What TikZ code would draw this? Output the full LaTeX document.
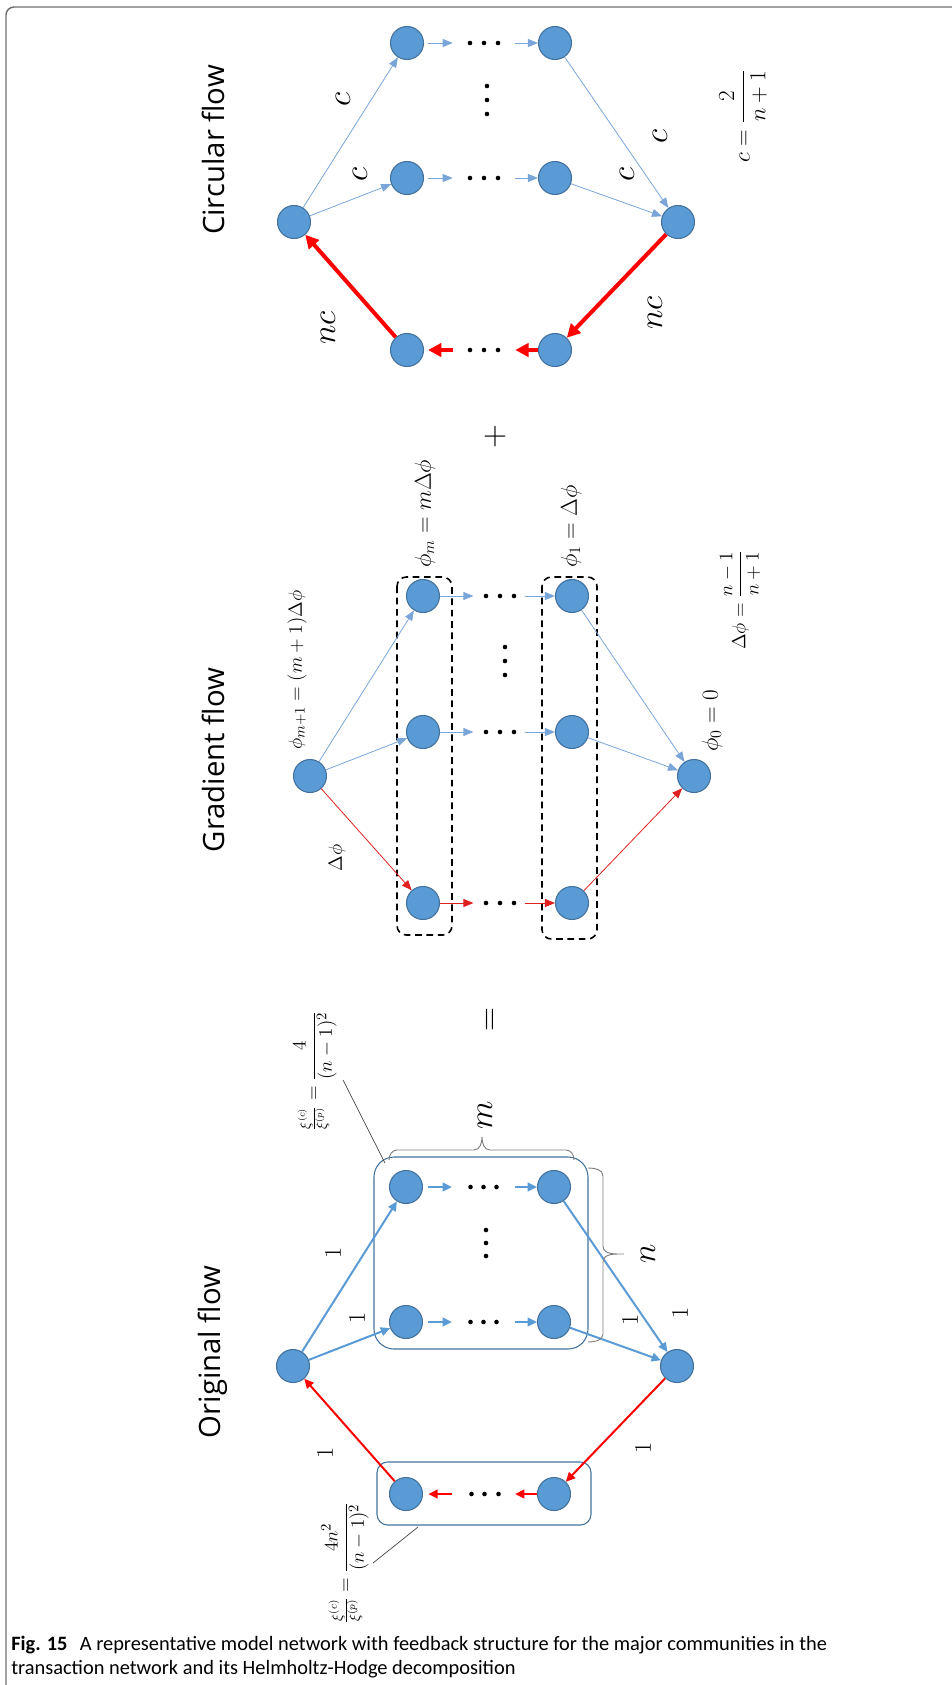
\documentclass[tikz,border=0pt]{standalone}
\usepackage{amsmath}
\usepackage{fontspec}
\usetikzlibrary{arrows.meta,calc}
\newfontfamily\titlefont{Open Sans}
\newfontfamily\capfont{Carlito}
\definecolor{nodefill}{HTML}{5B9BD5}
\definecolor{nodeline}{HTML}{41719C}
\definecolor{blueflow}{HTML}{5B9BD5}
\definecolor{thinblue}{HTML}{7AA5D8}
\definecolor{redflow}{HTML}{FF0000}
\definecolor{thinred}{HTML}{E02020}
\definecolor{framegray}{HTML}{6E6E6E}
\definecolor{bracegray}{HTML}{7F7F7F}
\newcommand\fpt[1]{\fontsize{#1}{#1}\selectfont}
\begin{document}
\begin{tikzpicture}[x=0.75pt,y=-0.75pt,
  vtx/.style={circle,fill=nodefill,draw=nodeline,line width=0.8pt,minimum size=24.75pt,inner sep=0pt},
  gap/.style={minimum width=#1,minimum height=2pt,inner sep=0pt},
  vgap/.style={minimum width=2pt,minimum height=30pt,inner sep=0pt},
  oblue/.style={draw=blueflow,line width=1.5pt,-{Triangle[length=7pt,width=6.5pt]}},
  ored/.style={draw=redflow,line width=1.5pt,-{Triangle[length=7pt,width=6.5pt]}},
  gblue/.style={draw=thinblue,line width=0.6pt,-{Triangle[length=7.5pt,width=6pt]}},
  gred/.style={draw=thinred,line width=0.6pt,-{Triangle[length=7.5pt,width=6pt]}},
  cred/.style={draw=redflow,line width=3pt,-{Triangle[length=10pt,width=10pt]}},
  rlab/.style={rotate=90,inner sep=0pt},
  groupbox/.style={draw=nodeline,line width=0.8pt},
  dashbox/.style={draw=black,line width=1.2pt,dash pattern=on 5pt off 3.5pt,rounded corners=7pt},
  brace/.style={draw=bracegray,line width=0.7pt},
  pointer/.style={draw=black!75,line width=0.5pt}
]
\useasboundingbox (0,0) rectangle (952,1685);
\draw[framegray,line width=1.1pt,rounded corners=6pt] (6,1685) -- (6,7) -- (952,7);

% ================= Circular flow =================
\node[vtx] (cs) at (294,222) {};
\node[vtx] (ca1) at (407,43) {};
\node[vtx] (cb1) at (555,43) {};
\node[vtx] (ca2) at (407,178) {};
\node[vtx] (cb2) at (555,178) {};
\node[vtx] (ca3) at (407,350) {};
\node[vtx] (cb3) at (555,350) {};
\node[vtx] (ck) at (678,222) {};
\node[gap=46.5pt] (cd1) at (484,43) {};
\node[gap=46.5pt] (cd2) at (484,178) {};
\node[gap=46.5pt] (cd3) at (484,350) {};
\node[vgap] (cdv) at (487,100) {};
\foreach \n in {cd1,cd2,cd3}{\foreach \d in {-14,0,14}{\fill ($(\n.center)+(\d,0)$) circle[radius=2.3];}}
\foreach \d in {-14,0,14}{\fill ($(cdv.center)+(0,\d)$) circle[radius=2.3];}
\draw[gblue] (cs) -- (ca1);
\draw[gblue] (cs) -- (ca2);
\draw[gblue,shorten <=3pt] (ca1) -- (cd1);
\draw[gblue] (cd1) -- (cb1);
\draw[gblue,shorten <=3pt] (ca2) -- (cd2);
\draw[gblue] (cd2) -- (cb2);
\draw[gblue] (cb1) -- (ck);
\draw[gblue] (cb2) -- (ck);
\draw[cred] (ck) -- (cb3);
\draw[cred] (cb3) -- (cd3);
\draw[cred,shorten >=3pt] (cd3) -- (ca3);
\draw[cred] (ca3) -- (cs);
\node[rlab] (cl1) at (343,100) {\fpt{24pt}$c$};
\node[rlab] (cl2) at (360,175) {\fpt{24pt}$c$};
\node[rlab] (cl3) at (660,137) {\fpt{24pt}$c$};
\node[rlab] (cl4) at (627,175) {\fpt{24pt}$c$};
\node[rlab] (cl5) at (328,328) {\fpt{24pt}$nc$};
\node[rlab] (cl6) at (655,313) {\fpt{24pt}$nc$};
\node[rlab] (cform) at (743,116) {\fpt{16pt}$c=\dfrac{2}{n+1}$};
\node[rlab] (ctitle) at (213,150) {\fpt{22pt}\titlefont Circular flow};
\node[rlab] (plus) at (495,437) {\fpt{26pt}$+$};

% ================= Gradient flow =================
\node[vtx] (gs) at (310,776) {};
\node[vtx] (ga1) at (423,596) {};
\node[vtx] (gb1) at (572,596) {};
\node[vtx] (ga2) at (423,732) {};
\node[vtx] (gb2) at (572,732) {};
\node[vtx] (ga3) at (423,903) {};
\node[vtx] (gb3) at (572,903) {};
\node[vtx] (gk) at (694,776) {};
\node[gap=38pt] (gd1) at (499,596) {};
\node[gap=38pt] (gd2) at (499,732) {};
\node[gap=38pt] (gd3) at (499,903) {};
\node[vgap] (gdv) at (505,661) {};
\foreach \n in {gd1,gd2,gd3}{\foreach \d in {-13,1,15}{\fill ($(\n.center)+(\d,0)$) circle[radius=2.3];}}
\foreach \d in {-14,0,14}{\fill ($(gdv.center)+(0,\d)$) circle[radius=2.3];}
\draw[dashbox] (397,577) rectangle (452,935);
\draw[dashbox] (542,577) rectangle (597,939);
\draw[gblue] (gs) -- (ga1);
\draw[gblue] (gs) -- (ga2);
\draw[gred] (gs) -- (ga3);
\draw[gblue] (ga1) -- (gd1);
\draw[gblue] (gd1) -- (gb1);
\draw[gblue] (ga2) -- (gd2);
\draw[gblue] (gd2) -- (gb2);
\draw[gred] (ga3) -- (gd3);
\draw[gred] (gd3) -- (gb3);
\draw[gblue] (gb1) -- (gk);
\draw[gblue] (gb2) -- (gk);
\draw[gred] (gb3) -- (gk);
\node[rlab,anchor=west] (gl1) at (297,750) {\fpt{15pt}$\phi_{m+1}=(m+1)\Delta\phi$};
\node[rlab] (gl2) at (337,858) {\fpt{15pt}$\Delta\phi$};
\node[rlab,anchor=west] (gl3) at (425,568) {\fpt{18pt}$\phi_m=m\Delta\phi$};
\node[rlab,anchor=west] (gl4) at (571,568) {\fpt{18pt}$\phi_1=\Delta\phi$};
\node[rlab,anchor=west] (gl5) at (712,752) {\fpt{18pt}$\phi_0=0$};
\node[rlab] (gform) at (740,600) {\fpt{15pt}$\Delta\phi=\dfrac{n-1}{n+1}$};
\node[rlab] (gtitle) at (213,760) {\fpt{22pt}\titlefont Gradient flow};
\node[rlab] (eqsign) at (492,1020) {\fpt{23pt}$=$};

% ================= Original flow =================
\node[vtx] (os) at (293,1366) {};
\node[vtx] (ot1) at (406,1187) {};
\node[vtx] (ot2) at (554,1187) {};
\node[vtx] (om1) at (406,1322) {};
\node[vtx] (om2) at (554,1322) {};
\node[vtx] (or1) at (406,1494) {};
\node[vtx] (or2) at (554,1494) {};
\node[vtx] (ok) at (677,1366) {};
\node[gap=47pt] (otd) at (483.5,1187) {};
\node[gap=47pt] (omd) at (483.5,1322) {};
\node[gap=47pt] (ord) at (483.5,1494) {};
\node[vgap] (ovd) at (486,1243) {};
\foreach \n in {otd,omd}{\foreach \d in {-13,0,13}{\fill ($(\n.center)+(\d,0)$) circle[radius=2.3];}}
\foreach \d in {-12,1,15}{\fill ($(ord.center)+(\d,0)$) circle[radius=2.3];}
\foreach \d in {-13,0,13}{\fill ($(ovd.center)+(0,\d)$) circle[radius=2.3];}
\draw[groupbox,rounded corners=15pt] (374,1157) rectangle (588,1349);
\draw[groupbox,rounded corners=8pt] (377,1462) rectangle (591,1525);
\draw[oblue] (os) -- (ot1);
\draw[oblue] (os) -- (om1);
\draw[oblue,shorten <=4pt] (ot1) -- (otd);
\draw[oblue] (otd) -- (ot2);
\draw[oblue,shorten <=4pt] (om1) -- (omd);
\draw[oblue] (omd) -- (om2);
\draw[oblue] (ot2) -- (ok);
\draw[oblue] (om2) -- (ok);
\draw[ored] (ok) -- (or2);
\draw[ored] (or2) -- (ord);
\draw[ored,shorten >=4pt] (ord) -- (or1);
\draw[ored] (or1) -- (os);
% braces
\draw[brace] (389,1160) to[out=90,in=180] (397,1150) -- (474,1150) to[out=0,in=-90] (482,1137) to[out=-90,in=180] (490,1150) -- (566,1150) to[out=0,in=90] (574,1160);
\draw[brace] (588,1168) to[out=0,in=90] (603,1176) -- (603,1246) to[out=-90,in=180] (624,1254) to[out=180,in=90] (603,1262) -- (603,1334) to[out=-90,in=0] (588,1342);
\node[rlab] (mlab) at (485,1115) {\fpt{27pt}$m$};
\node[rlab] (nlab) at (648,1254) {\fpt{26pt}$n$};
\node[rlab] (o1) at (333,1253) {\fpt{18pt}1};
\node[rlab] (o2) at (357,1318) {\fpt{18pt}1};
\node[rlab] (o3) at (630,1320) {\fpt{18pt}1};
\node[rlab] (o4) at (680,1313) {\fpt{18pt}1};
\node[rlab] (o5) at (643,1448) {\fpt{18pt}1};
\node[rlab] (o6) at (325,1453) {\fpt{18pt}1};
\node[rlab] (xitop) at (315,1071) {\fpt{15pt}$\tfrac{\xi^{(c)}}{\xi^{(p)}}=\dfrac{4}{(n-1)^2}$};
\node[rlab] (xibot) at (345,1563) {\fpt{15.5pt}$\tfrac{\xi^{(c)}}{\xi^{(p)}}=\dfrac{4n^2}{(n-1)^2}$};
\coordinate (pt1) at (385,1163);
\coordinate (pt2) at (343,1080);
\coordinate (pb1) at (418,1527);
\coordinate (pb2) at (373,1563);
\draw[pointer] (pt1) -- (pt2);
\draw[pointer] (pb1) -- (pb2);
\node[rlab] (otitle) at (213,1352) {\fpt{22pt}\titlefont Original flow};

% ================= Caption =================
\node[anchor=base west,inner sep=0pt] (cap1) at (11,1650) {\capfont\fpt{15.3pt}\textbf{Fig. 15}\hspace{0.6em}A representative model network with feedback structure for the major communities in the};
\node[anchor=base west,inner sep=0pt] (cap2) at (11,1674) {\capfont\fpt{15.3pt}transaction network and its Helmholtz-Hodge decomposition};
\end{tikzpicture}
\end{document}
